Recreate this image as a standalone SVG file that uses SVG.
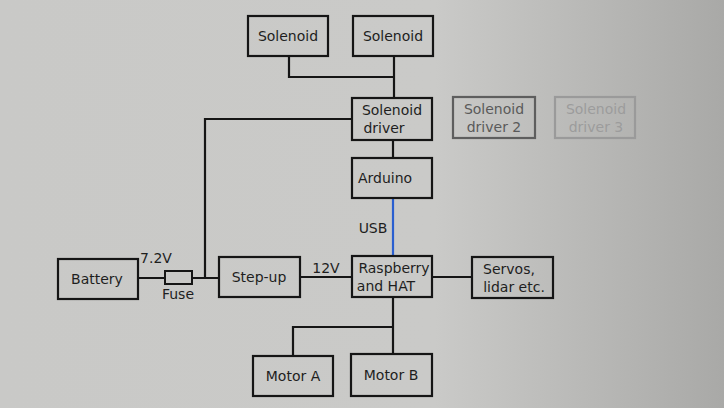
<svg xmlns="http://www.w3.org/2000/svg" width="724" height="408" viewBox="0 0 724 408">
<defs>
<linearGradient id="bg" x1="0" y1="0" x2="1" y2="0">
<stop offset="0" stop-color="#c9c9c7"/>
<stop offset="0.6" stop-color="#cacac8"/>
<stop offset="1" stop-color="#a9a9a7"/>
</linearGradient>
</defs>
<style>
.box{fill:none;stroke:#151515;stroke-width:2.2}
.t{font-family:"DejaVu Sans",sans-serif;font-size:14px;fill:#1e1e1e;text-anchor:middle}
.w{fill:none;stroke:#151515;stroke-width:2.2}
.g2 rect{stroke:#5e5e5e}
.g2 text{fill:#5a5a5a}
.g3 rect{stroke:#9a9a9a}
.g3 text{fill:#9c9c9c}
</style>
<rect width="724" height="408" fill="url(#bg)"/>
<g id="connectors">
<polyline class="w" points="289,56 289,77 394,77"/>
<line class="w" x1="394" y1="56" x2="394" y2="98"/>
<line class="w" x1="393" y1="140" x2="393" y2="158"/>
<line x1="393" y1="198" x2="393" y2="256" stroke="#2a5fd0" stroke-width="2.2"/>
<line class="w" x1="138" y1="278" x2="219" y2="278"/>
<polyline class="w" points="205,278 205,119 352,119"/>
<line class="w" x1="300" y1="277" x2="352" y2="277"/>
<line class="w" x1="432" y1="277" x2="472" y2="277"/>
<line class="w" x1="393" y1="297" x2="393" y2="354"/>
<polyline class="w" points="393,327 293,327 293,356"/>
<text class="t" x="373" y="233">USB</text>
<text class="t" x="156" y="263">7.2V</text>
<text class="t" x="326" y="273">12V</text>
</g>
<g id="fuse">
<rect x="165" y="271" width="27" height="13" fill="#c9c9c7" stroke="#151515" stroke-width="2"/>
<text class="t" x="178" y="299">Fuse</text>
</g>
<g id="solenoid1"><rect class="box" x="248" y="16" width="80" height="40"/><text class="t" x="288" y="41">Solenoid</text></g>
<g id="solenoid2"><rect class="box" x="353" y="16" width="80" height="40"/><text class="t" x="393" y="41">Solenoid</text></g>
<g id="solenoid-driver"><rect class="box" x="352" y="98" width="80" height="42"/><text class="t" x="392" y="115">Solenoid</text><text class="t" x="384" y="133">driver</text></g>
<g id="solenoid-driver-2" class="g2"><rect class="box" x="453" y="97" width="82" height="41"/><text class="t" x="494" y="114">Solenoid</text><text class="t" x="494" y="132">driver 2</text></g>
<g id="solenoid-driver-3" class="g3"><rect class="box" x="555" y="97" width="80" height="41"/><text class="t" x="596" y="114">Solenoid</text><text class="t" x="596" y="132">driver 3</text></g>
<g id="arduino"><rect class="box" x="352" y="158" width="80" height="40"/><text class="t" x="385" y="183">Arduino</text></g>
<g id="raspberry"><rect class="box" x="352" y="256" width="80" height="41"/><text class="t" x="394" y="273">Raspberry</text><text class="t" x="386" y="291">and HAT</text></g>
<g id="servos"><rect class="box" x="472" y="257" width="81" height="41"/><text class="t" x="509" y="274">Servos,</text><text class="t" x="514" y="292">lidar etc.</text></g>
<g id="battery"><rect class="box" x="58" y="259" width="80" height="40"/><text class="t" x="97" y="284">Battery</text></g>
<g id="step-up"><rect class="box" x="219" y="257" width="81" height="40"/><text class="t" x="259" y="282">Step-up</text></g>
<g id="motor-a"><rect class="box" x="253" y="356" width="80" height="40"/><text class="t" x="293" y="381">Motor A</text></g>
<g id="motor-b"><rect class="box" x="351" y="354" width="81" height="42"/><text class="t" x="391" y="380">Motor B</text></g>
</svg>
